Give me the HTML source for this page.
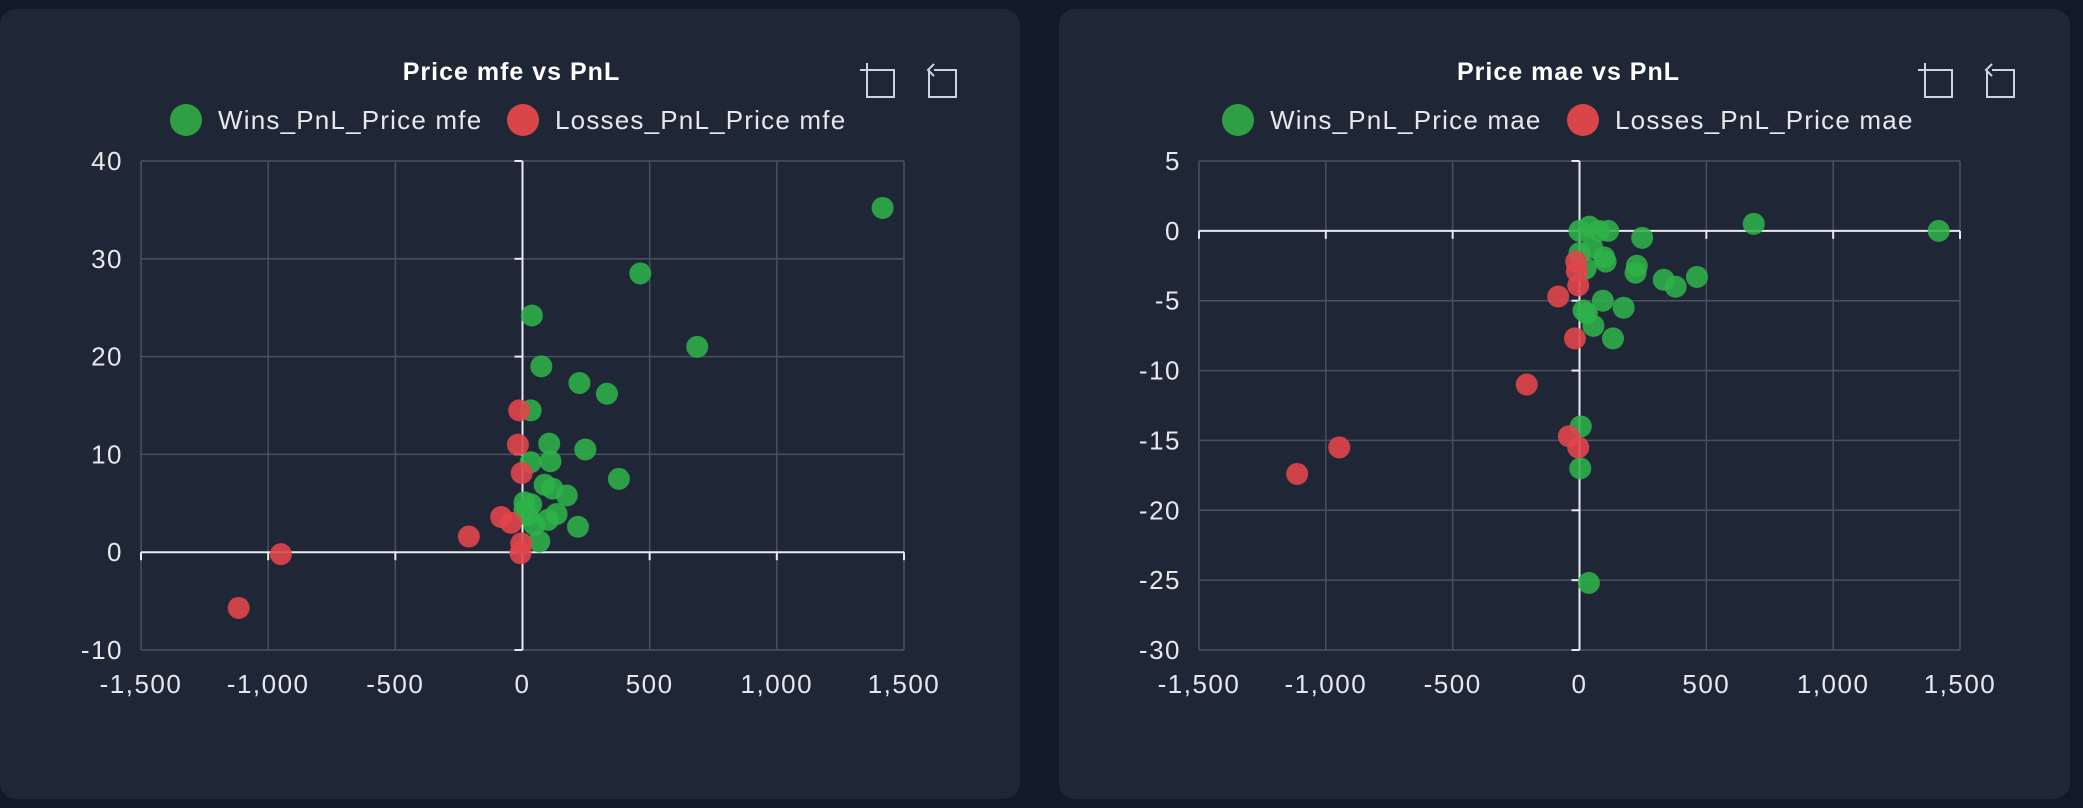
<!DOCTYPE html>
<html><head><meta charset="utf-8"><style>
html,body{margin:0;padding:0;background:#121a28;width:2083px;height:808px;overflow:hidden;font-family:"Liberation Sans",sans-serif}
svg{position:absolute;left:0;top:0}
</style></head><body>
<svg id="s" width="2083" height="808"></svg>
<script>
const mfeWinsX=[1416,463,37,687,74,224,332,32,105,247,110,32,379,87,118,174,8,34,134,100,218,66,21,47,8];
const mfeWinsY=[35.2,28.5,24.2,21,19,17.3,16.2,14.5,11.1,10.5,9.3,9.2,7.5,6.9,6.5,5.8,5.1,4.9,3.9,3.3,2.6,1.1,3.8,2.8,4.3];
const mfeLossX=[-1116,-950,-211,-84,-45,-13,-18,-3,-5,-8];
const mfeLossY=[-5.7,-0.2,1.6,3.6,3.0,14.5,11.0,8.1,0.9,-0.1];
const maeWinsX=[1416,687,247,463,379,332,221,226,174,132,92,55,29,16,113,39,0,76,97,103,0,50,24,5,3,37];
const maeWinsY=[0,0.5,-0.5,-3.3,-4.0,-3.5,-3.0,-2.5,-5.5,-7.7,-5.0,-6.8,-5.9,-5.7,0,0.3,0,0,-1.9,-2.2,-1.6,-1.2,-2.7,-14,-17,-25.2];
const maeLossX=[-1113,-947,-208,-84,-42,-5,-18,-13,-10,-5];
const maeLossY=[-17.4,-15.5,-11,-4.7,-14.7,-15.5,-7.7,-2.2,-2.9,-3.9];
const xTicks=[-1500,-1000,-500,0,500,1000,1500];
const mfeYTicks=[-10,0,10,20,30,40];
const maeYTicks=[-30,-25,-20,-15,-10,-5,0,5];

const NS="http://www.w3.org/2000/svg";
const svg=document.getElementById('s');
function mk(tag,attrs,parent,txt){const e=document.createElementNS(NS,tag);for(const k in attrs)e.setAttribute(k,attrs[k]);if(txt!==undefined)e.textContent=txt;(parent||svg).appendChild(e);return e;}
function fmt(v){return v.toLocaleString('en-US');}

function chart(o){
  const g=mk('g',{});
  
  
  const card=mk('rect',{x:o.cx,y:9,width:o.cw,height:790,rx:16,fill:'#1f2737'},g);
  
  
  const L=o.L,R=o.R,T=161,B=650;
  const xs=v=>L+(v-xTicks[0])/(xTicks[xTicks.length-1]-xTicks[0])*(R-L);
  const yMin=o.yt[0],yMax=o.yt[o.yt.length-1];
  const ys=v=>B-(v-yMin)/(yMax-yMin)*(B-T);
  const mid=(L+R)/2-11;
  const t=mk('text',{x:mid,y:80,'text-anchor':'middle',fill:'#fff','font-size':25,'font-weight':'bold','letter-spacing':1},g,o.title);
  
  
  const ic=mk('g',{stroke:'#d0d4dc','stroke-width':2,fill:'none'},g);
  
  
  const ix=o.cx+o.iconX;
  mk('path',{d:`M${ix} 70 v27 h27 v-27 h-21 M${ix-7} 70 h14 M${ix} 63 v14`},ic);
  mk('path',{d:`M${ix+62} 70 v27 h27 v-27 h-22 M${ix+67} 64 l-6 6 l6 6`},ic);
  const lg=mk('g',{},g);
  
  
  const lx=o.cx+o.legX;
  mk('circle',{cx:lx,cy:120,r:16,fill:'#2ea043'},lg);
  mk('text',{x:lx+32,y:129,fill:'#e6e8ec','font-size':26,'letter-spacing':1.2},lg,o.wl);
  mk('circle',{cx:lx+o.legGap,cy:120,r:16,fill:'#d94548'},lg);
  mk('text',{x:lx+o.legGap+32,y:129,fill:'#e6e8ec','font-size':26,'letter-spacing':1.2},lg,o.ll);
  const gr=mk('g',{stroke:'#4b505e','stroke-width':1.5},g);
  
  
  xTicks.forEach(v=>mk('line',{x1:xs(v),x2:xs(v),y1:T,y2:B},gr));
  o.yt.forEach(v=>mk('line',{x1:L,x2:R,y1:ys(v),y2:ys(v)},gr));
  const ax=mk('g',{stroke:'#e8eaf0','stroke-width':2},g);
  
  
  mk('line',{x1:L,x2:R,y1:ys(0),y2:ys(0)},ax);
  mk('line',{x1:xs(0),x2:xs(0),y1:T,y2:B},ax);
  xTicks.forEach(v=>mk('line',{x1:xs(v),x2:xs(v),y1:ys(0),y2:ys(0)+8},ax));
  o.yt.forEach(v=>mk('line',{x1:xs(0)-8,x2:xs(0),y1:ys(v),y2:ys(v)},ax));
  const xl=mk('g',{fill:'#e6e8ec','font-size':26,'text-anchor':'middle','letter-spacing':1.5},g);
  
  
  xTicks.forEach(v=>mk('text',{x:xs(v),y:693},xl,fmt(v)));
  const yl=mk('g',{fill:'#e6e8ec','font-size':26,'text-anchor':'end','letter-spacing':1.5},g);
  
  
  o.yt.forEach(v=>mk('text',{x:L-18,y:ys(v)+9},yl,fmt(v)));
  const wg=mk('g',{fill:'#2fb24a','fill-opacity':0.88},g);
  
  
  o.wx.forEach((v,i)=>{const c=mk('circle',{cx:xs(v),cy:ys(o.wy[i]),r:11},wg);
    
    });
  const rg=mk('g',{fill:'#e0454a','fill-opacity':0.9},g);
  
  
  o.lx.forEach((v,i)=>{const c=mk('circle',{cx:xs(v),cy:ys(o.ly[i]),r:11},rg);
    
    });
}
chart({name:'mfe-chart',cx:0,cw:1020,L:141,R:904,yt:mfeYTicks,title:'Price mfe vs PnL',wl:'Wins_PnL_Price mfe',ll:'Losses_PnL_Price mfe',legX:186,legGap:337,iconX:867,wx:mfeWinsX,wy:mfeWinsY,lx:mfeLossX,ly:mfeLossY});
chart({name:'mae-chart',cx:1059,cw:1011,L:1199,R:1960,yt:maeYTicks,title:'Price mae vs PnL',wl:'Wins_PnL_Price mae',ll:'Losses_PnL_Price mae',legX:179,legGap:345,iconX:866,wx:maeWinsX,wy:maeWinsY,lx:maeLossX,ly:maeLossY});
</script>
</body></html>
